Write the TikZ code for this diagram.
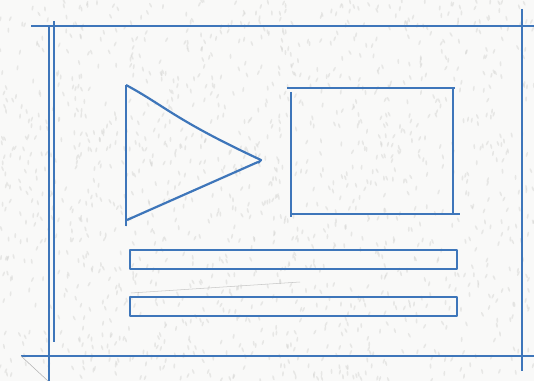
\documentclass[tikz,border=0pt]{standalone}
\usepackage{xcolor}
\usepackage{tikz}
\usetikzlibrary{calc}
\definecolor{sketchblue}{RGB}{62,118,186}
\definecolor{paper}{RGB}{249,249,248}
\definecolor{grain}{RGB}{214,214,212}

\begin{document}
\begin{tikzpicture}[x=0.02cm,y=-0.02cm,
    frameline/.style={draw=sketchblue,line width=1.6pt},
    shapeline/.style={draw=sketchblue,line width=1.25pt,line join=round},
    faintline/.style={draw=gray!60,line width=0.3pt}]
  % paper
  \fill[paper] (0,0) rectangle (534,381);
  \useasboundingbox (0,0) rectangle (534,381);
  \pgfmathsetseed{7}
  \foreach \i in {1,...,1400}{
    \pgfmathsetmacro{\gx}{rnd*534}
    \pgfmathsetmacro{\gy}{rnd*381}
    \pgfmathsetmacro{\ga}{60+rnd*60}
    \fill[grain,opacity=0.5,rotate around={\ga:(\gx,\gy)}] (\gx,\gy) ellipse (2.6 and 0.9);
  }
  % outer frame
  \draw[frameline] (31,26) -- (534,26);
  \draw[frameline] (49,27) -- (49,381);
  \draw[frameline] (54,21) -- (54,342);
  \draw[frameline] (21,356) -- (534,356);
  \draw[frameline] (522,9) -- (522,371);
  \draw[faintline] (21,356) -- (48,381);
  % play symbol
  \coordinate (playtop) at (126,85);
  \coordinate (playtip) at (261,160);
  \coordinate (playbot) at (127,220);
  \draw[shapeline] (126,85) -- (126,226);
  \draw[shapeline] (playtop) .. controls (165,106) and (175,120) .. (playtip) -- (258,163);
  \draw[shapeline] (playbot) -- (258,162);
  % picture box
  \draw[shapeline] (287,88) -- (455,88);
  \draw[shapeline] (291,92) -- (291,217);
  \draw[shapeline] (453,88) -- (453,214);
  \draw[shapeline] (290,214) -- (460,214);
  % text bars
  \foreach \y/\ya/\yb in {1/250/269,2/297/316}{
    \draw[shapeline] (130,\ya) rectangle (457,\yb);
  }
  \draw[faintline,opacity=0.7] (131,293) -- (300,282);
\end{tikzpicture}
\end{document}
